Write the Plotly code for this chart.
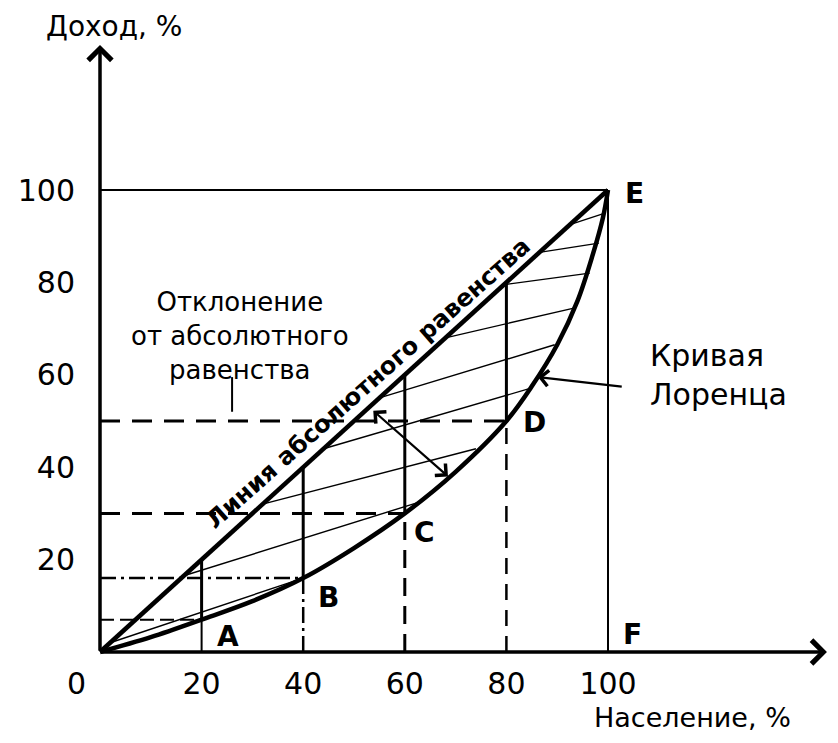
import plotly.graph_objects as go

# ---------------- data ----------------
population = [0, 20, 40, 60, 80, 100]          # % of population
income_equal = [0, 20, 40, 60, 80, 100]        # line of absolute equality
income_lorenz = [0, 7, 16, 30, 50, 100]        # Lorenz curve at the quantiles
point_labels = ["A", "B", "C", "D", "E"]

# Lorenz curve, traced
curve_x = [0, 10, 20, 30, 40, 50, 60, 70, 80, 85, 90, 94, 97, 99, 100]
curve_y = [0, 3.2, 7, 11, 16, 22.5, 30, 39, 50, 57.5, 66.5, 76, 86, 94, 100]

# hatching segments between the equality line and the Lorenz curve
hatch_x0 = [2, 16.5, 32, 44, 55, 68, 79.5, 86.5, 92.5]
hatch_y0 = [2, 16.5, 32, 44, 55, 68, 79.5, 86.5, 92.5]
hatch_x1 = [40, 63, 74, 84.5, 89.5, 93.5, 96.4, 98.2, 99.4]
hatch_y1 = [16, 32.5, 44, 57, 66.5, 74.5, 82, 88.5, 95]

x_ticks = [20, 40, 60, 80, 100]
y_ticks = [20, 40, 60, 80, 100]

# ---------------- geometry (figure pixels; page adds an 8px body margin) ----------------
OFF = 8
W, H = 822, 727
ML, MR, MT, MB = 82, 1, 32, 73
PX0, PY0 = 92, 644      # figure pixel of data origin
SX, SY = 5.08, 4.62     # px per data unit
x_rng = [(ML - PX0) / SX, (W - MR - PX0) / SX]
y_rng = [(PY0 - (H - MB)) / SY, (PY0 - MT) / SY]
PW, PH = W - ML - MR, H - MT - MB


def paper(sx, sy):
    """screen pixel -> paper coordinates"""
    fx, fy = sx - OFF, sy - OFF
    return (fx - ML) / PW, (H - MB - fy) / PH


FONT = "DejaVu Sans"
K = "black"

fig = go.Figure()


def seg_trace(xs, ys, width, dash="solid", shape="linear"):
    fig.add_trace(go.Scatter(x=xs, y=ys, mode="lines", hoverinfo="skip",
                             line=dict(color=K, width=width, dash=dash, shape=shape),
                             showlegend=False))


# hatching
hx, hy = [], []
for a, b, c, d in zip(hatch_x0, hatch_y0, hatch_x1, hatch_y1):
    hx += [a, c, None]
    hy += [b, d, None]
seg_trace(hx, hy, 1.4)

# box lines: top at 100 and right at 100
seg_trace([0, population[-1]], [income_equal[-1], income_equal[-1]], 2)
seg_trace([population[-1], population[-1]], [0, income_equal[-1]], 2)

# horizontal guides from y axis to the points A..D
h_dashes = ["14px,6px", "16px,5px,3px,5px", "20px,12px", "20px,12px"]
h_widths = [2, 2.5, 3, 3]
for i in range(1, 5):
    seg_trace([0, population[i]], [income_lorenz[i], income_lorenz[i]], h_widths[i - 1], h_dashes[i - 1])

# vertical guides below the points
v_dashes = ["solid", "16px,5px,3px,5px", "18px,10px", "16px,10px"]
v_widths = [2, 2.5, 3, 2.5]
for i in range(1, 5):
    seg_trace([population[i], population[i]], [0, income_lorenz[i]], v_widths[i - 1], v_dashes[i - 1])

# vertical deviation segments (equality -> Lorenz)
for i in range(1, 5):
    seg_trace([population[i], population[i]], [income_lorenz[i], income_equal[i]], 3)

# equality line and Lorenz curve
seg_trace(population, income_equal, 4.5)
seg_trace(curve_x, curve_y, 4.5, shape="spline")

# small tick below the "deviation" caption
seg_trace([26, 26], [52, 59.5], 2)

ann = []
# axes with arrows
ann.append(dict(x=143.1, y=0, ax=0, ay=0, xref="x", yref="y", axref="x", ayref="y",
                text="", showarrow=True, arrowhead=4, arrowsize=1.3, arrowwidth=3.5, arrowcolor=K))
ann.append(dict(x=0, y=131.4, ax=0, ay=0, xref="x", yref="y", axref="x", ayref="y",
                text="", showarrow=True, arrowhead=4, arrowsize=1.3, arrowwidth=3.5, arrowcolor=K))
# double arrow (deviation)
ann.append(dict(x=68.5, y=38, ax=53.5, ay=52.5, xref="x", yref="y", axref="x", ayref="y",
                text="", showarrow=True, arrowside="end+start", arrowhead=4, startarrowhead=4,
                arrowsize=1.4, startarrowsize=1.4, arrowwidth=2.2, arrowcolor=K))
# Lorenz curve pointer
ann.append(dict(x=86.2, y=59.5, ax=103, ay=57.4, xref="x", yref="y", axref="x", ayref="y",
                text="", showarrow=True, arrowhead=4, arrowsize=1.4, arrowwidth=2.2, arrowcolor=K))

# point labels
bold = dict(family=FONT, size=28, color=K, weight="bold")
shifts = [(26, -17), (25, -19), (20, -19), (28, -1), (26, -3)]
for i, lab in enumerate(point_labels):
    ann.append(dict(x=population[i + 1], y=income_lorenz[i + 1], text=lab, showarrow=False,
                    xshift=shifts[i][0], yshift=shifts[i][1], font=bold))
ann.append(dict(x=population[-1], y=0, text="F", showarrow=False, xshift=24, yshift=18, font=bold))

# texts
px, py = paper(76, 683)
ann.append(dict(x=px, y=py, xref="paper", yref="paper", text="0", showarrow=False,
                xanchor="center", yanchor="middle", font=dict(family=FONT, size=30, color=K)))
px, py = paper(44, 26)
ann.append(dict(x=px, y=py, xref="paper", yref="paper", text="Доход, %", showarrow=False,
                xanchor="left", yanchor="middle", font=dict(family=FONT, size=28, color=K)))
px, py = paper(692, 717)
ann.append(dict(x=px, y=py, xref="paper", yref="paper", text="Население, %", showarrow=False,
                xanchor="center", yanchor="middle", font=dict(family=FONT, size=27, color=K)))
ann.append(dict(x=27.6, y=68.4, text="Отклонение<br>от абсолютного<br>равенства", showarrow=False,
                align="center", font=dict(family=FONT, size=26, color=K)))
ann.append(dict(x=107.9, y=60, text="Кривая<br>Лоренца", showarrow=False, xanchor="left",
                align="left", font=dict(family=FONT, size=30, color=K)))
ann.append(dict(x=52.8, y=58.3, text="Линия абсолютного равенства", showarrow=False,
                textangle=-41.6, font=dict(family=FONT, size=24, color=K, weight="bold")))

fig.update_layout(
    width=W, height=H,
    margin=dict(l=ML, r=MR, t=MT, b=MB, pad=0),
    paper_bgcolor="white", plot_bgcolor="white",
    annotations=ann,
    xaxis=dict(range=x_rng, showgrid=False, zeroline=False, showline=False, ticks="",
               tickvals=x_ticks, ticktext=[str(v) for v in x_ticks], ticklabelstandoff=1,
               tickfont=dict(family=FONT, size=30, color=K), fixedrange=True),
    yaxis=dict(range=y_rng, showgrid=False, zeroline=False, showline=False, ticks="",
               tickvals=y_ticks, ticktext=[str(v) for v in y_ticks], ticklabelstandoff=14,
               tickfont=dict(family=FONT, size=30, color=K), fixedrange=True),
)

fig.write_html("out.html")
